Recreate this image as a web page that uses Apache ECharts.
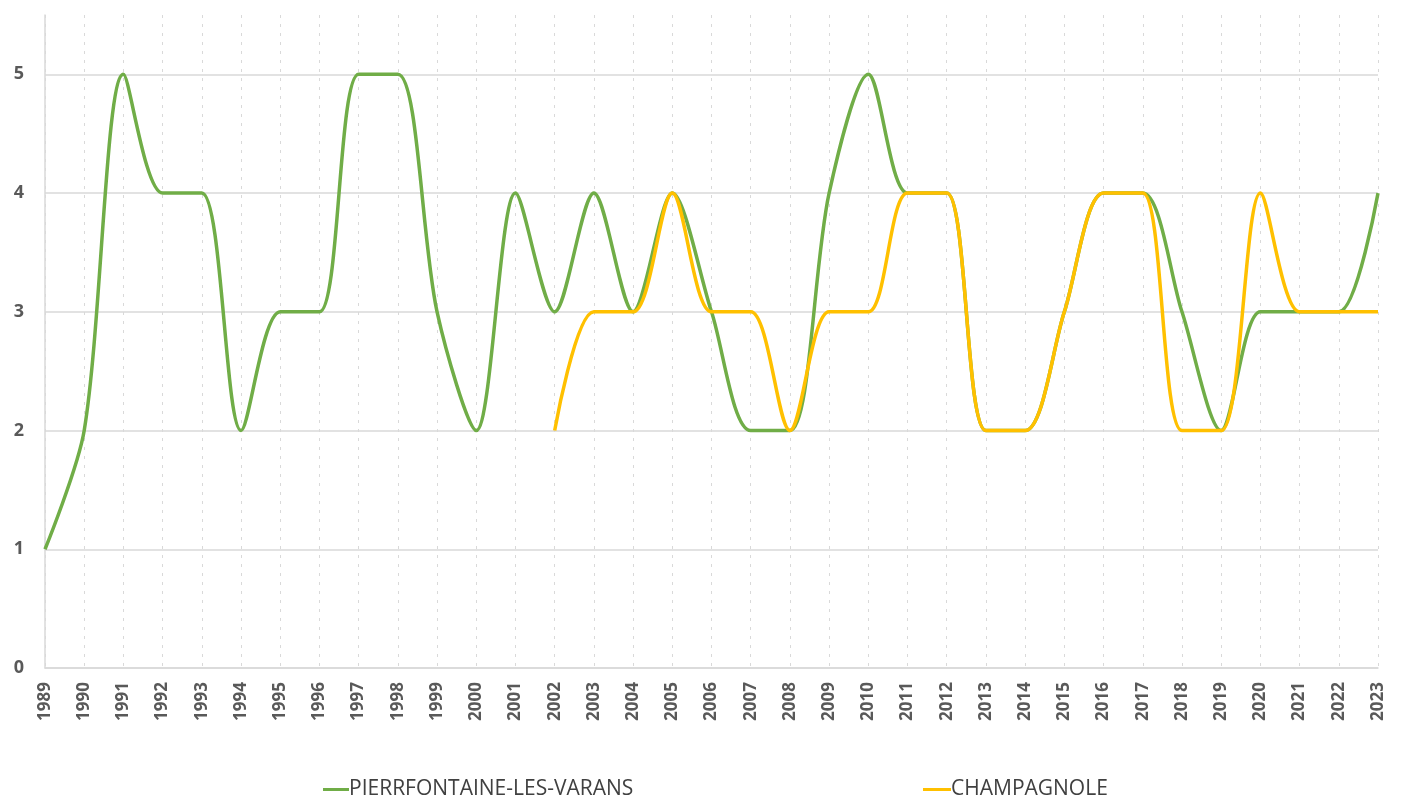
<!DOCTYPE html>
<html>
<head>
<meta charset="utf-8">
<script src="https://cdn.jsdelivr.net/npm/echarts@6/dist/echarts.min.js"></script>
<style>
  html, body { margin: 0; padding: 0; background: #fff; }
  #main { width: 1401px; height: 796px; }
</style>
</head>
<body>
<div id="main"></div>
<script>
var years = [];
for (var y = 1989; y <= 2023; y++) years.push(String(y));

var pierrfontaine = [1, 2, 5, 4, 4, 2, 3, 3, 5, 5, 3, 2, 4, 3, 4, 3, 4, 3, 2, 2,
  4, 5, 4, 4, 2, 2, 3, 4, 4, 3, 2, 3, 3, 3, 4];
var champagnole = [null, null, null, null, null, null, null, null, null, null, null, null, null,
  2, 3, 3, 4, 3, 3, 2, 3, 3, 4, 4, 2, 2, 3, 4, 4, 2, 2, 4, 3, 3, 3];

var myChart = echarts.init(document.getElementById('main'));

var labelColor = '#595959';
var font = '"Open Sans", "Liberation Sans", sans-serif';

var option = {
  animation: false,
  grid: { left: 45, right: 23, top: 15, bottom: 128 },
  legend: [
    {
      data: ['PIERRFONTAINE-LES-VARANS'],
      left: 318, top: 774,
      icon: 'rect', itemWidth: 26, itemHeight: 3, itemGap: 0,
      textStyle: { fontSize: 21, color: '#404040', fontFamily: font, padding: [0, 0, 0, -5] }
    },
    {
      data: ['CHAMPAGNOLE'],
      left: 918, top: 774,
      icon: 'rect', itemWidth: 28, itemHeight: 3, itemGap: 0,
      textStyle: { fontSize: 21, color: '#404040', fontFamily: font, padding: [0, 0, 0, -5] }
    }
  ],
  xAxis: {
    type: 'category',
    data: years,
    boundaryGap: false,
    axisLine: { lineStyle: { color: '#d9d9d9', width: 1.5 } },
    axisTick: { show: false },
    axisLabel: {
      rotate: 90, margin: 14, color: labelColor, fontSize: 17, fontWeight: 'bold',
      fontFamily: font, interval: 0
    },
    splitLine: { show: true, lineStyle: { color: '#d9d9d9', type: [3, 6], width: 1 } }
  },
  yAxis: {
    type: 'value',
    min: 0, max: 5.5, interval: 1,
    axisLine: { show: true, lineStyle: { color: '#d9d9d9', width: 1.5 } },
    axisTick: { show: false },
    axisLabel: {
      color: labelColor, fontSize: 18, fontWeight: 'bold', fontFamily: font,
      margin: 21, showMaxLabel: false
    },
    splitLine: {
      lineStyle: {
        color: ['#d9d9d9', '#d9d9d9', '#d9d9d9', '#d9d9d9', '#d9d9d9', '#d9d9d9', 'rgba(0,0,0,0)'],
        width: 1.5
      }
    }
  },
  series: [
    {
      name: 'PIERRFONTAINE-LES-VARANS',
      type: 'line',
      data: pierrfontaine,
      smooth: 0.3,
      showSymbol: false,
      lineStyle: { color: '#70AD47', width: 3.5 },
      itemStyle: { color: '#70AD47' }
    },
    {
      name: 'CHAMPAGNOLE',
      type: 'line',
      data: champagnole,
      smooth: 0.3,
      showSymbol: false,
      lineStyle: { color: '#FFC000', width: 3.5 },
      itemStyle: { color: '#FFC000' }
    }
  ]
};

myChart.setOption(option);
</script>
</body>
</html>
